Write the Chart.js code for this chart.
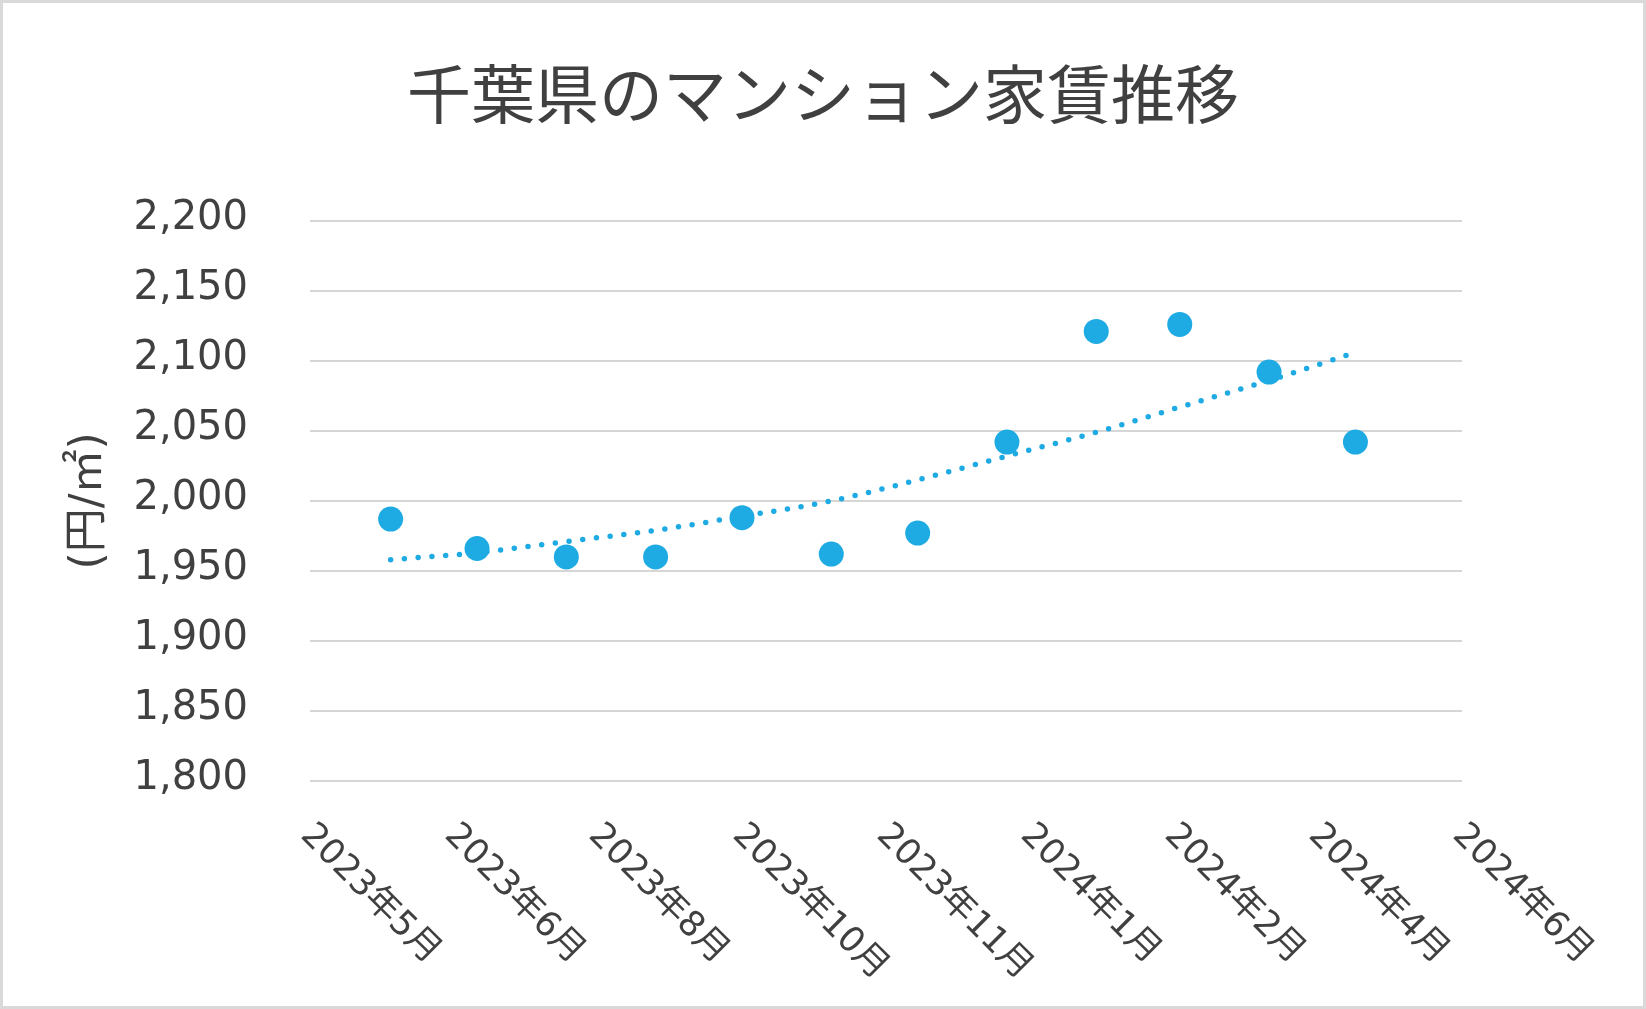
<!DOCTYPE html>
<html lang="ja">
<head>
<meta charset="utf-8">
<title>千葉県のマンション家賃推移</title>
<script src="https://cdn.jsdelivr.net/npm/chart.js@4.4.1/dist/chart.umd.min.js"></script>
<style>
  html, body { margin: 0; padding: 0; background: #fff; }
  #wrap { position: relative; width: 1646px; height: 1009px; }
  #frame {
    position: absolute; left: 0; top: 0; width: 1646px; height: 1009px;
    box-sizing: border-box; border: 3px solid #d9d9d9; pointer-events: none;
  }
</style>
</head>
<body>
<div id="wrap">
  <canvas id="rentChart" width="1646" height="1009"></canvas>
  <div id="frame"></div>
</div>
<script>
// months of the observations (first day of each month)
const months = ['2023-06', '2023-07', '2023-08', '2023-09', '2023-10', '2023-11',
                '2023-12', '2024-01', '2024-02', '2024-03', '2024-04', '2024-05'];
// rent per square metre (円/㎡)
const rentValues = [1987, 1966, 1960, 1960, 1988, 1962, 1977, 2042, 2121, 2126, 2092, 2042];
// dotted trend line at each month
const trendValues = [1958, 1963, 1971, 1979, 1989, 2000, 2015, 2032, 2049, 2067, 2086, 2106];
// x axis tick labels (ticks every 50 days from 2023-05-04)
const xTickLabels = ['2023年5月', '2023年6月', '2023年8月', '2023年10月', '2023年11月',
                     '2024年1月', '2024年2月', '2024年4月', '2024年6月'];

const TEXT = '#404040';
const BLUE = '#1eaae2';
const LATIN = '"DejaVu Sans", "Noto Sans CJK JP", sans-serif';

// month string -> Excel style date serial (days since 1899-12-30)
function toSerial(m) {
  const [y, mo] = m.split('-').map(Number);
  return (Date.UTC(y, mo - 1, 1) - Date.UTC(1899, 11, 30)) / 86400000;
}

const xs = months.map(toSerial);
const rentPoints = xs.map((x, i) => ({ x: x, y: rentValues[i] }));
const trendPoints = xs.map((x, i) => ({ x: x, y: trendValues[i] }));

// x tick labels are drawn rotated +45deg, starting at each tick
const slantedLabels = {
  id: 'slantedLabels',
  afterDraw(chart) {
    const xScale = chart.scales.x;
    const ctx = chart.ctx;
    ctx.save();
    ctx.fillStyle = TEXT;
    ctx.font = '35px ' + LATIN;
    ctx.textAlign = 'left';
    ctx.textBaseline = 'middle';
    xScale.ticks.forEach((t, i) => {
      if (!xTickLabels[i]) return;
      const px = xScale.getPixelForValue(t.value);
      ctx.save();
      ctx.translate(px - 4, chart.chartArea.bottom + 49);
      ctx.rotate(Math.PI / 4);
      ctx.fillText(xTickLabels[i], 0, 0);
      ctx.restore();
    });
    ctx.restore();
  }
};

new Chart(document.getElementById('rentChart'), {
  type: 'scatter',
  data: {
    datasets: [
      {
        label: '近似曲線',
        data: trendPoints,
        showLine: true,
        pointRadius: 0,
        pointHoverRadius: 0,
        borderColor: BLUE,
        borderWidth: 5.5,
        borderDash: [0, 13.8],
        borderCapStyle: 'round',
        cubicInterpolationMode: 'monotone',
        fill: false
      },
      {
        label: '家賃',
        data: rentPoints,
        pointRadius: 12.5,
        pointHoverRadius: 12.5,
        pointBackgroundColor: BLUE,
        pointBorderColor: BLUE,
        pointBorderWidth: 0,
        showLine: false
      }
    ]
  },
  options: {
    responsive: false,
    animation: false,
    layout: { padding: 0 },
    plugins: {
      legend: { display: false },
      tooltip: { enabled: false },
      title: {
        display: true,
        text: '千葉県のマンション家賃推移',
        color: TEXT,
        font: { family: '"Noto Sans CJK JP", sans-serif', size: 64, weight: 'normal', lineHeight: 1.2 },
        padding: { top: 55, bottom: 89 }
      }
    },
    scales: {
      x: {
        type: 'linear',
        min: 45050,
        max: 45450,
        ticks: { stepSize: 50, display: false },
        grid: { display: false, drawTicks: false },
        border: { display: false },
        afterFit(scale) { scale.height = 228; }
      },
      y: {
        min: 1800,
        max: 2200,
        ticks: {
          stepSize: 50,
          color: TEXT,
          padding: 62,
          labelOffset: -2,
          font: { family: LATIN, size: 40 },
          callback: v => v.toLocaleString('en-US')
        },
        grid: { color: '#d6d6d6', lineWidth: 2, drawTicks: false },
        border: { display: false },
        title: {
          display: true,
          text: '(円/㎡)',
          color: TEXT,
          font: { family: LATIN, size: 44, lineHeight: 1.2 },
          padding: { top: 63, bottom: 0 }
        },
        afterFit(scale) { scale.width = 310; }
      },
      // empty right-hand axis that only keeps the space right of the plot
      spacer: {
        position: 'right',
        min: 0,
        max: 1,
        ticks: { display: false },
        grid: { display: false, drawTicks: false },
        border: { display: false },
        afterFit(scale) { scale.width = 184; }
      }
    }
  },
  plugins: [slantedLabels]
});
</script>
</body>
</html>
